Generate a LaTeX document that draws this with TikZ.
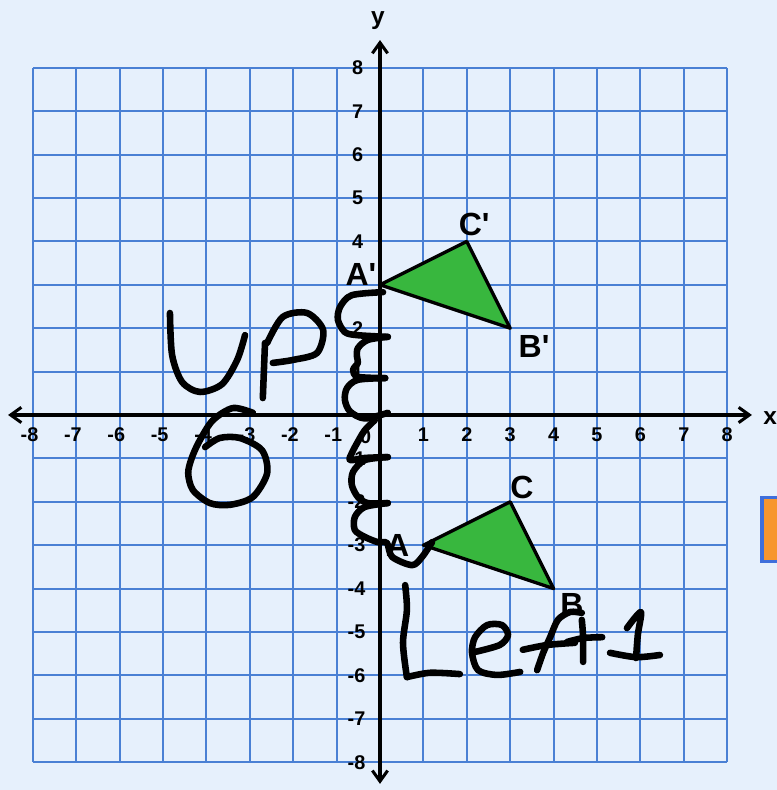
\documentclass[tikz,border=0pt]{standalone}
\usepackage{fontspec}
\setmainfont{Liberation Sans}
\usepackage{tikz}
\usetikzlibrary{arrows.meta}
\definecolor{paper}{HTML}{E6F0FC}
\definecolor{gridblue}{HTML}{4A80D4}
\definecolor{trigreen}{HTML}{38B73E}
\definecolor{boxorange}{HTML}{F7962F}
\definecolor{boxblue}{HTML}{3F6FDB}
\tikzstyle{gridline}=[draw=gridblue,line width=1.3pt]
\tikzstyle{axis}=[{Straight Barb[length=7pt,width=10pt]}-{Straight Barb[length=7pt,width=10pt]},
  line width=2pt,black]
\tikzstyle{tri}=[draw=black,fill=trigreen,line width=2.2pt,line join=round]
\tikzstyle{ink}=[line width=4.3pt,line cap=round,line join=round,black]
\tikzstyle{ticklbl}=[font=\fontsize{13}{15}\selectfont\bfseries,inner sep=0pt]
\tikzstyle{vlabel}=[font=\fontsize{21}{24}\selectfont\bfseries,inner sep=0pt]
\tikzstyle{axlbl}=[font=\fontsize{16}{18}\selectfont\bfseries,inner sep=0pt]

\begin{document}
\begin{tikzpicture}
  \useasboundingbox (-8.756,-8.641) rectangle (9.147,9.562);
  \clip (-8.756,-8.641) rectangle (9.147,9.562);
  \fill[paper] (-8.756,-8.641) rectangle (9.147,9.562);

  % grid
  \draw[gridline] (-8,-8) grid (8,8);
  \draw[boxblue,fill=boxorange,line width=2.2pt] (8.8,-1.9) rectangle (9.8,-3.37);

  % axes
  \coordinate (xl) at (-8.57,0);
  \coordinate (xr) at (8.57,0);
  \coordinate (yb) at (0,-8.5);
  \coordinate (yt) at (0,8.64);
  \draw[axis] (xl) -- (xr);
  \draw[axis] (yb) -- (yt);
  \node[axlbl] (xname) at (8.99,-0.07) {x};
  \node[axlbl] (yname) at (-0.05,9.08) {y};

  \foreach \i in {1,...,8} {
    \node[ticklbl] (xp\i) at (\i,-0.46) {\i};
    \node[ticklbl] (xn\i) at (-\i,-0.46) {\llap{-}\i};
    \node[ticklbl,anchor=east] (yn\i) at (-0.33,-\i) {-\i};
  }
  \foreach \i in {1,2,4,5,6,7,8}
    \node[ticklbl,anchor=east] (yp\i) at (-0.38,\i) {\i};
  \node[ticklbl] (zero) at (-0.33,-0.5) {0};

  % triangles
  \coordinate (A) at (1,-3);
  \coordinate (B) at (4,-4);
  \coordinate (C) at (3,-2);
  \coordinate (A') at (0,3);
  \coordinate (B') at (3,2);
  \coordinate (C') at (2,4);
  \draw[tri] (A) -- (B) -- (C) -- cycle;
  \draw[tri] (A') -- (B') -- (C') -- cycle;
  \node[vlabel] (lA) at (0.41,-3.0) {A};
  \node[vlabel] (lB) at (4.42,-4.36) {B};
  \node[vlabel] (lC) at (3.27,-1.68) {C};
  \node[vlabel] (lA') at (-0.44,3.23) {A\textquotesingle};
  \node[vlabel] (lB') at (3.55,1.57) {B\textquotesingle};
  \node[vlabel] (lC') at (2.17,4.38) {C\textquotesingle};

  % handwriting: Up 6
  \draw[ink] plot[smooth] coordinates {(-4.84,2.35) (-4.79,1.38) (-4.56,0.76)
    (-4.15,0.53) (-3.64,0.71) (-3.29,1.27) (-3.11,1.84)};
  \draw[ink] (-2.65,1.66) -- (-2.70,0.39);
  \draw[ink] plot[smooth] coordinates {(-2.60,1.66) (-2.24,2.26) (-1.68,2.35)
    (-1.31,1.96) (-1.45,1.43) (-2.00,1.27) (-2.47,1.20)};
  \draw[ink] plot[smooth] coordinates {(-2.93,0.05) (-3.39,0.16) (-3.85,-0.12)
    (-4.15,-0.58) (-4.33,-0.97) (-4.42,-1.34) (-4.31,-1.73) (-3.92,-2.03)
    (-3.46,-2.07) (-2.93,-1.89) (-2.60,-1.34) (-2.72,-0.81) (-3.23,-0.53)
    (-3.69,-0.53) (-4.03,-0.74)};

  % loops down the y-axis
  \draw[ink] plot[smooth] coordinates {(0.07,2.83) (-0.65,2.76) (-0.92,2.49)
    (-0.97,2.19) (-0.81,1.91) (-0.53,1.84) (0.18,1.80)};
  \draw[ink] plot[smooth] coordinates {(0.18,1.80) (-0.28,1.73) (-0.51,1.54)
    (-0.53,1.34) (-0.51,1.20) (-0.62,1.04) (-0.51,0.88) (0.12,0.85)};
  \draw[ink] plot[smooth] coordinates {(0.12,0.85) (-0.51,0.81) (-0.76,0.62)
    (-0.81,0.35) (-0.69,0.08) (-0.35,-0.08) (0.18,0.05)};
  \draw[ink] plot[smooth] coordinates {(-0.12,-0.12) (-0.35,-0.35) (-0.53,-0.65)
    (-0.65,-0.88) (-0.69,-1.04) (-0.35,-0.99) (0.18,-0.97)};
  \draw[ink] plot[smooth] coordinates {(0.18,-0.97) (-0.35,-1.04) (-0.62,-1.31)
    (-0.65,-1.61) (-0.51,-1.89) (-0.28,-2.03) (0.18,-2.03)};
  \draw[ink] plot[smooth] coordinates {(0.18,-2.03) (-0.35,-2.12) (-0.58,-2.35)
    (-0.58,-2.65) (-0.35,-2.81) (-0.05,-2.93) (0.16,-2.95) (0.28,-3.27)
    (0.74,-3.46) (0.97,-3.27) (1.20,-2.93)};

  % handwriting: Left1
  \draw[ink] plot[smooth] coordinates {(0.58,-3.92) (0.62,-4.49) (0.53,-5.25)
    (0.62,-6.04)};
  \draw[ink] plot[smooth] coordinates {(0.62,-6.04) (1.15,-5.94) (1.84,-5.97)};
  \draw[ink] plot[smooth] coordinates {(2.19,-5.46) (2.76,-5.30) (2.95,-5.07)
    (2.81,-4.84) (2.47,-4.84) (2.19,-5.12) (2.12,-5.48) (2.26,-5.88)
    (2.70,-5.99) (3.23,-5.92)};
  \draw[ink] plot[smooth] coordinates {(4.65,-4.56) (4.38,-4.54) (4.10,-4.72)
    (3.92,-5.12) (3.76,-5.48) (3.62,-5.88)};
  \draw[ink] plot[smooth] coordinates {(3.29,-5.41) (3.85,-5.30) (4.49,-5.25)};
  \draw[ink] plot[smooth] coordinates {(4.65,-4.72) (4.68,-5.12) (4.68,-5.69)};
  \draw[ink] plot[smooth] coordinates {(4.31,-5.23) (4.68,-5.14) (5.12,-5.12)};
  \draw[ink] plot[smooth] coordinates {(5.69,-4.91) (6.01,-4.54) (5.94,-5.07)
    (5.90,-5.60)};
  \draw[ink] plot[smooth] coordinates {(5.30,-5.48) (5.90,-5.58) (6.45,-5.53)};
\end{tikzpicture}
\end{document}
